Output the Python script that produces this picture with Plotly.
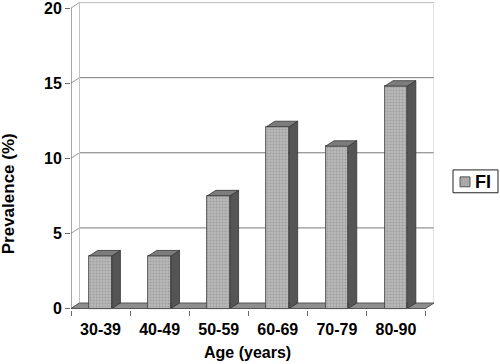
import plotly.graph_objects as go

categories = ["30-39", "40-49", "50-59", "60-69", "70-79", "80-90"]
values = [3.5, 3.5, 7.5, 12.1, 10.8, 14.8]
y_ticks = [0, 5, 10, 15, 20]
series_name = "FI"

DX = 0.144   # 3D depth offset in category units
DY = 0.364   # 3D depth offset in value units
W = 0.385    # bar front width
FONT = "Arial, Liberation Sans, sans-serif"

n = len(categories)
xs = list(range(n))

fig = go.Figure()

# front faces
fig.add_trace(go.Bar(
    x=xs, y=values, width=W, name=series_name,
    marker=dict(color="#b0b0b0",
                line=dict(color="#3a3a3a", width=0.8),
                pattern=dict(shape=".", fgcolor="#858585", bgcolor="#b8b8b8",
                             size=3, solidity=0.35)),
    showlegend=False,
))

# side and top faces
sx, sy, tx, ty = [], [], [], []
for i, v in zip(xs, values):
    x0 = i + W / 2
    sx += [x0, x0 + DX, x0 + DX, x0, x0, None]
    sy += [0, DY, v + DY, v, 0, None]
    tx += [i - W / 2, i + W / 2, i + W / 2 + DX, i - W / 2 + DX, i - W / 2, None]
    ty += [v, v, v + DY, v + DY, v, None]
fig.add_trace(go.Scatter(x=sx, y=sy, mode="lines", fill="toself",
                         fillcolor="#555555", line=dict(color="#333333", width=0.8),
                         showlegend=False, hoverinfo="skip"))
fig.add_trace(go.Scatter(x=tx, y=ty, mode="lines", fill="toself",
                         fillcolor="#7c7c7c", line=dict(color="#333333", width=0.8),
                         showlegend=False, hoverinfo="skip"))

shapes = []
left, right = -0.5, n - 0.5
top = max(y_ticks)
for v in y_ticks:
    if v > 0:
        shapes.append(dict(type="line", layer="below", xref="x", yref="y",
                           x0=left + DX, x1=right + DX, y0=v + DY, y1=v + DY,
                           line=dict(color="#7a7a7a", width=1)))
    shapes.append(dict(type="line", layer="below", xref="x", yref="y",
                       x0=left, x1=left + DX, y0=v, y1=v + DY,
                       line=dict(color="#9a9a9a", width=1)))
shapes.append(dict(type="line", layer="below", xref="x", yref="y",
                   x0=left + DX, x1=left + DX, y0=DY, y1=top + DY,
                   line=dict(color="#c4c4c4", width=1)))
shapes.append(dict(type="line", layer="below", xref="x", yref="y",
                   x0=right + DX, x1=right + DX, y0=DY, y1=top + DY,
                   line=dict(color="#c4c4c4", width=1)))
shapes.append(dict(type="line", layer="below", xref="x", yref="y",
                   x0=left + DX, x1=right + DX, y0=top + DY, y1=top + DY,
                   line=dict(color="#c4c4c4", width=1)))
# floor
shapes.append(dict(type="path", layer="below", xref="x", yref="y",
                   path=f"M {left},0 L {right},0 L {right+DX},{DY} L {left+DX},{DY} Z",
                   fillcolor="#8e8e8e", line=dict(color="#555555", width=1)))
# front axis lines
shapes.append(dict(type="line", layer="above", xref="x", yref="y",
                   x0=left, x1=left, y0=0, y1=top,
                   line=dict(color="#6a6a6a", width=1.2)))
shapes.append(dict(type="line", layer="above", xref="x", yref="y",
                   x0=left, x1=right, y0=0, y1=0,
                   line=dict(color="#555555", width=1)))

# manual legend (paper coords; plot area x: 71..434 px, y: 0..310 px)
PW, PH = 363.0, 310.0
def px(x):
    return (x - 71) / PW
def py(y):
    return (PH - y) / PH
shapes.append(dict(type="rect", xref="paper", yref="paper",
                   x0=px(453), x1=px(498), y0=py(192), y1=py(169),
                   fillcolor="white", line=dict(color="#222222", width=1)))
shapes.append(dict(type="rect", xref="paper", yref="paper",
                   x0=px(460), x1=px(470), y0=py(186), y1=py(176),
                   fillcolor="#a9a9a9", line=dict(color="#555555", width=1)))

fig.update_layout(
    width=500, height=364,
    margin=dict(l=71, r=66, t=0, b=54),
    paper_bgcolor="white", plot_bgcolor="white",
    font=dict(family=FONT, size=16, color="black"),
    showlegend=False,
    bargap=0,
    shapes=shapes,
    xaxis=dict(range=[left, right + DX], showgrid=False, zeroline=False,
               showline=False, tickmode="array", tickvals=xs, ticktext=categories,
               ticks="", ticklabelstandoff=8,
               tickfont=dict(family=FONT, size=16, color="black", weight="bold"),
               minor=dict(tickmode="array", tickvals=[k - 0.5 for k in range(n + 1)],
                          ticks="outside", ticklen=5, tickcolor="#6a6a6a",
                          showgrid=False)),
    yaxis=dict(range=[-0.1, 20.4], showgrid=False, zeroline=False, showline=False,
               tickmode="array", tickvals=y_ticks, ticks="outside", ticklen=5,
               tickcolor="#6a6a6a", ticklabeloverflow="allow",
               tickfont=dict(family=FONT, size=16, color="black", weight="bold")),
    annotations=[
        dict(text="<b>Prevalence (%)</b>", textangle=-90, xref="paper", yref="paper",
             x=px(8.5), y=py(193), xanchor="center", yanchor="middle", showarrow=False,
             font=dict(family=FONT, size=17, color="black")),
        dict(text="<b>Age (years)</b>", xref="paper", yref="paper",
             x=px(247.5), y=py(353), xanchor="center", yanchor="middle", showarrow=False,
             font=dict(family=FONT, size=16, color="black")),
        dict(text="<b>" + series_name + "</b>", xref="paper", yref="paper",
             x=px(473), y=py(181), xanchor="left", yanchor="middle", showarrow=False,
             font=dict(family=FONT, size=18, color="black")),
    ],
)

fig.write_html("out.html",
               config={"displayModeBar": False},
               post_script="document.body.style.margin='0';")
